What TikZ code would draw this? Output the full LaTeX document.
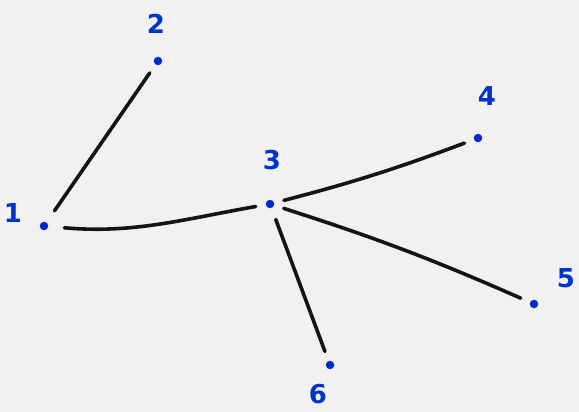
\documentclass[tikz,border=0pt]{standalone}
\usepackage{fontspec}
\setmainfont{DejaVu Sans}
\begin{document}
\begin{tikzpicture}[x=1pt,y=-1pt,
  dot/.style={circle,fill=blue!80!cyan!80!black,inner sep=0pt,minimum size=8.5pt},
  lbl/.style={text=blue!75!cyan!80!black,font=\fontsize{26}{28}\selectfont\bfseries},
  edge/.style={line width=3.6pt,black!92,line cap=round,shorten >=10pt,shorten <=10pt}]
\fill[white!96!blue!50!gray!20] (0,0) rectangle (579,412);
\useasboundingbox (0,0) rectangle (579,412);
\node[dot] (n1) at (44,226) {};
\node[dot] (n2) at (158,61) {};
\node[dot] (n3) at (270,204) {};
\node[dot] (n4) at (478,138) {};
\node[dot] (n5) at (534,304) {};
\node[dot] (n6) at (330,365) {};
\node[lbl] (l1) at (13,213) {1};
\node[lbl] (l2) at (156,24) {2};
\node[lbl] (l3) at (272,160) {3};
\node[lbl] (l4) at (487,96) {4};
\node[lbl] (l5) at (566,278) {5};
\node[lbl] (l6) at (318,394) {6};
\draw[edge,shorten <=14pt] (n1) -- (n2);
\draw[edge,shorten <=16pt] (n1) to[out=-5,in=190] (n3);
\draw[edge] (n3) to[bend right=3] (n4);
\draw[edge] (n3) to[bend left=3] (n5);
\draw[edge,shorten <=12pt] (n3) -- (n6);
\end{tikzpicture}
\end{document}
